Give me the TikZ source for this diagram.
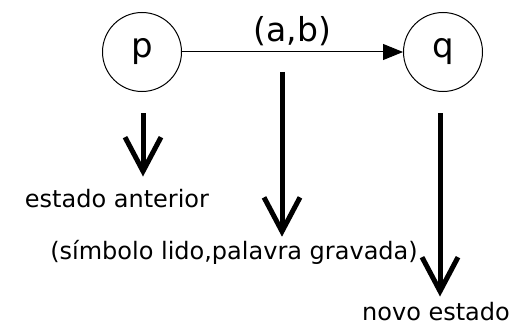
\documentclass[tikz,border=0pt]{standalone}
\usepackage{fontspec}
\setmainfont{DejaVu Sans}
\usetikzlibrary{arrows.meta}
\usetikzlibrary{positioning}

\begin{document}
\begin{tikzpicture}[x=1pt,y=-1pt]
\tikzstyle{state}=[circle,draw,line width=1pt,minimum size=79pt,inner sep=0pt,font=\fontsize{34}{38}\selectfont]
\tikzstyle{desc}=[inner sep=3pt,font=\fontsize{24}{28}\selectfont]
\tikzstyle{bigarrow}=[line width=5pt,-{Straight Barb[length=34pt,width=36pt]}]
\fill[white] (0,0) rectangle (526,326);
\useasboundingbox (0,0) rectangle (526,326);
% the transition
\node[state] at(142, 52) (p) {p};
\node[state] at(443, 52) (q) {q};
\draw[line width=1pt,-{Triangle[length=20pt,width=16pt]}] (p) -- node[above=5pt,inner sep=1pt,font=\fontsize{33}{36}\selectfont] (ab) {(a,b)} (q);
% what each part means
\node[desc] at(117, 199) (ant) {estado anterior};
\node[desc] at(234, 252) (sym) {(símbolo lido,palavra gravada)};
\node[desc] at(436, 312) (new) {novo estado};
\coordinate (p1) at (143, 113);
\coordinate (e1) at (282, 72);
\coordinate (q1) at (440, 113);
\draw[bigarrow,shorten >=10pt] (p1) -- (p1 |- ant.north);
\draw[bigarrow] (e1) -- (e1 |- sym.north);
\draw[bigarrow,shorten >=3pt] (q1) -- (q1 |- new.north);
\end{tikzpicture}
\end{document}
